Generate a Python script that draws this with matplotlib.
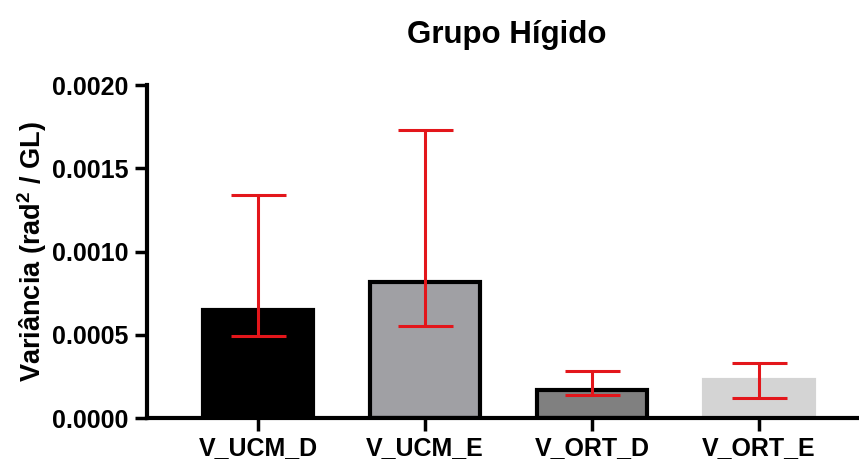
import matplotlib
matplotlib.use("Agg")
import matplotlib.pyplot as plt
import numpy as np

plt.rcParams['font.family'] = ['Liberation Sans', 'DejaVu Sans']
plt.rcParams['font.weight'] = 'bold'
plt.rcParams['mathtext.fontset'] = 'custom'
plt.rcParams['mathtext.rm'] = 'Liberation Sans:bold'
plt.rcParams['mathtext.bf'] = 'Liberation Sans:bold'

categories = ["V_UCM_D", "V_UCM_E", "V_ORT_D", "V_ORT_E"]
means = [0.00065, 0.00082, 0.00017, 0.00023]
err_low = [0.00049, 0.00055, 0.00014, 0.00012]
err_high = [0.00134, 0.00173, 0.00028, 0.00033]
bar_colors = ["#000000", "#a0a0a4", "#808080", "#d4d4d4"]
edge_colors = ["#000000", "#000000", "#000000", "#d4d4d4"]
yticks = [0.0, 0.0005, 0.0010, 0.0015, 0.0020]

fig = plt.figure(figsize=(8.59, 4.65), dpi=100)
ax = fig.add_axes([0.171, 0.101, 0.829, 0.716])

x = np.arange(len(categories))
ax.bar(x, means, width=0.66, color=bar_colors, edgecolor=edge_colors,
       linewidth=3, zorder=2)

means_a = np.array(means)
yerr = [means_a - np.array(err_low), np.array(err_high) - means_a]
ax.errorbar(x, means, yerr=yerr, fmt='none', ecolor='#e3161b',
            elinewidth=2.2, capsize=19.8, capthick=2.2, zorder=3)

ax.set_xlim(-0.666, 3.6)
ax.set_ylim(0, 0.0020)
ax.set_yticks(yticks)
ax.set_yticklabels([f"{v:.4f}" for v in yticks])
ax.set_xticks(x)
ax.set_xticklabels(categories)

for s in ['top', 'right']:
    ax.spines[s].set_visible(False)
for s in ['left', 'bottom']:
    ax.spines[s].set_linewidth(3)
ax.spines['left'].set_bounds(0, 0.0020)

ax.tick_params(axis='both', width=2.5, length=9, labelsize=18, pad=4)

ax.set_ylabel("Variância (rad$^{2}$ / GL)", fontsize=19.5, fontweight='bold', labelpad=2.5)
ax.set_title("Grupo Hígido", fontsize=22.5, fontweight='bold', pad=30, x=0.505)

fig.savefig("out.png", dpi=100)
